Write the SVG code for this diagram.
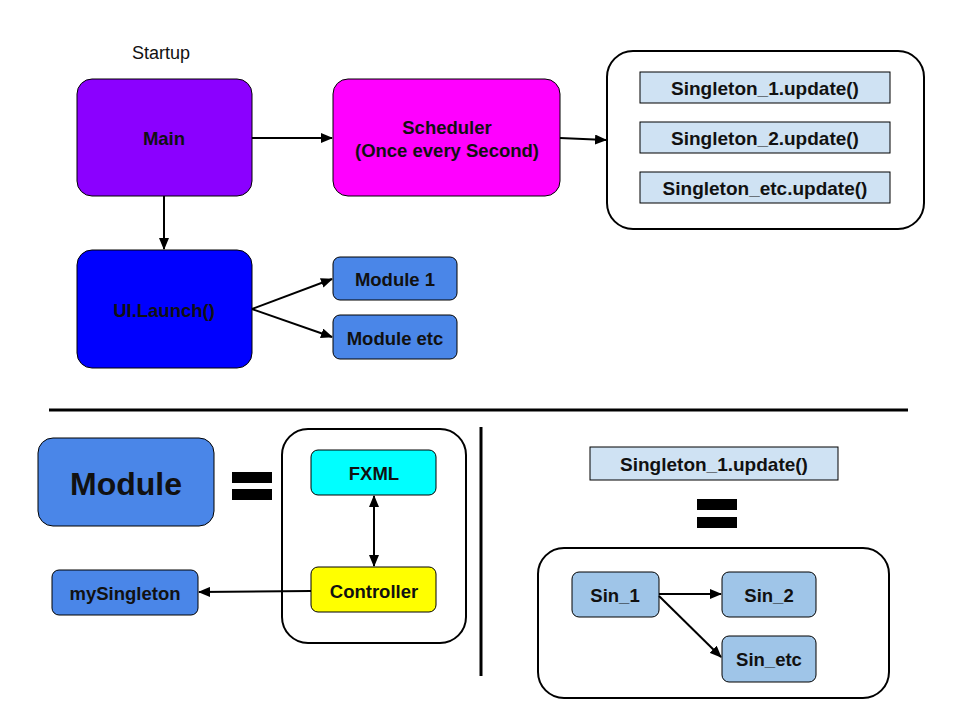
<svg xmlns="http://www.w3.org/2000/svg" width="960" height="720" viewBox="0 0 960 720">
<defs>
<marker id="ah" markerWidth="12" markerHeight="10" refX="11" refY="5" orient="auto" markerUnits="userSpaceOnUse">
<path d="M0,0 L12,5 L0,10 Z" fill="#000"/>
</marker>
<marker id="ahs" markerWidth="12" markerHeight="10" refX="1" refY="5" orient="auto" markerUnits="userSpaceOnUse">
<path d="M12,0 L0,5 L12,10 Z" fill="#000"/>
</marker>
<style>
text{font-family:"Liberation Sans",Arial,sans-serif;fill:#111;text-anchor:middle;dominant-baseline:central}
.b{font-weight:bold;font-size:18.5px}
.s{font-weight:bold;font-size:19px}
.n{stroke:#000;stroke-width:1}
.c{fill:#fff;stroke:#000;stroke-width:2}
.e{stroke:#000;stroke-width:2;fill:none}
</style>
</defs>
<rect width="960" height="720" fill="#fff"/>
<text x="161" y="53" style="font-size:18px">Startup</text>

<g id="main"><rect class="n" x="77" y="79" width="175" height="117" rx="15" fill="#8b00ff"/><text class="b" x="164" y="138">Main</text></g>
<g id="scheduler"><rect class="n" x="333" y="79" width="227" height="117" rx="15" fill="#ff00ff"/><text class="b" x="447" y="127">Scheduler</text><text class="b" x="447" y="150">(Once every Second)</text></g>

<g id="singleton-group"><rect class="c" x="607" y="51" width="317" height="178" rx="26"/></g>
<g id="s1"><rect class="n" x="640" y="72" width="250" height="31" fill="#cfe2f3"/><text class="s" x="765" y="88">Singleton_1.update()</text></g>
<g id="s2"><rect class="n" x="640" y="122" width="250" height="31" fill="#cfe2f3"/><text class="s" x="765" y="138">Singleton_2.update()</text></g>
<g id="setc"><rect class="n" x="640" y="172" width="250" height="31" fill="#cfe2f3"/><text class="s" x="765" y="188">Singleton_etc.update()</text></g>

<g id="ui"><rect class="n" x="77" y="250" width="175" height="118" rx="15" fill="#0000ff"/><text class="b" x="164" y="310">UI.Launch()</text></g>
<g id="module1"><rect class="n" x="333" y="257" width="124" height="43" rx="7" fill="#4a86e8"/><text class="b" x="395" y="279">Module 1</text></g>
<g id="moduleetc"><rect class="n" x="333" y="315" width="124" height="44" rx="7" fill="#4a86e8"/><text class="b" x="395" y="338">Module etc</text></g>

<line x1="49" y1="410" x2="908" y2="410" stroke="#000" stroke-width="3"/>
<line x1="481" y1="427" x2="481" y2="676" stroke="#000" stroke-width="3"/>

<g id="module"><rect class="n" x="38" y="438" width="176" height="88" rx="15" fill="#4a86e8"/><text x="126" y="484" style="font-weight:bold;font-size:32px">Module</text></g>
<g id="eq1"><rect x="232" y="472" width="40" height="11" fill="#000"/><rect x="232" y="489" width="40" height="11" fill="#000"/></g>
<g id="module-container"><rect class="c" x="282" y="429" width="184" height="214" rx="26"/></g>
<g id="fxml"><rect class="n" x="311" y="450" width="125" height="45" rx="7" fill="#00ffff"/><text class="b" x="374" y="473">FXML</text></g>
<g id="controller"><rect class="n" x="311" y="567" width="125" height="45" rx="7" fill="#ffff00"/><text class="b" x="374" y="591">Controller</text></g>
<g id="mysingleton"><rect class="n" x="52" y="570" width="146" height="45" rx="7" fill="#4a86e8"/><text class="b" x="125" y="593">mySingleton</text></g>

<g id="s1b"><rect class="n" x="590" y="447" width="248" height="33" fill="#cfe2f3"/><text class="s" x="714" y="464">Singleton_1.update()</text></g>
<g id="eq2"><rect x="697" y="499" width="40" height="11" fill="#000"/><rect x="697" y="517" width="40" height="11" fill="#000"/></g>
<g id="sin-container"><rect class="c" x="538" y="548" width="351" height="150" rx="26"/></g>
<g id="sin1"><rect class="n" x="572" y="572" width="87" height="45" rx="7" fill="#9fc5e8"/><text class="b" x="615" y="595">Sin_1</text></g>
<g id="sin2"><rect class="n" x="722" y="572" width="94" height="45" rx="7" fill="#9fc5e8"/><text class="b" x="769" y="595">Sin_2</text></g>
<g id="sinetc"><rect class="n" x="722" y="636" width="94" height="46" rx="7" fill="#9fc5e8"/><text class="b" x="769" y="659">Sin_etc</text></g>

<g id="connectors">
<line class="e" x1="252" y1="138" x2="332" y2="138" marker-end="url(#ah)"/>
<line class="e" x1="560" y1="138" x2="606" y2="140" marker-end="url(#ah)"/>
<line class="e" x1="164" y1="196" x2="164" y2="249" marker-end="url(#ah)"/>
<line class="e" x1="252" y1="309" x2="332" y2="279" marker-end="url(#ah)"/>
<line class="e" x1="252" y1="309" x2="332" y2="337" marker-end="url(#ah)"/>
<line class="e" x1="374" y1="496" x2="374" y2="566" marker-start="url(#ahs)" marker-end="url(#ah)"/>
<line class="e" x1="311" y1="591" x2="199" y2="592" marker-end="url(#ah)"/>
<line class="e" x1="659" y1="594" x2="721" y2="594" marker-end="url(#ah)"/>
<line class="e" x1="659" y1="596" x2="721" y2="657" marker-end="url(#ah)"/>
</g>
</svg>
